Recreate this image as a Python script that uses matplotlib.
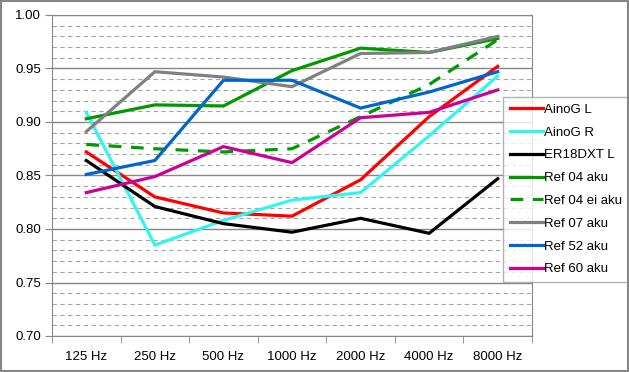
import matplotlib.pyplot as plt
import numpy as np
from matplotlib.ticker import MultipleLocator, FixedLocator

plt.rcParams['font.family'] = ['Liberation Sans', 'DejaVu Sans']

freqs = ['125 Hz', '250 Hz', '500 Hz', '1000 Hz', '2000 Hz', '4000 Hz', '8000 Hz']

aino_g_l = [0.872, 0.830, 0.815, 0.812, 0.846, 0.905, 0.952]
aino_g_r = [0.909, 0.785, 0.808, 0.827, 0.834, 0.887, 0.943]
er18dxt_l = [0.864, 0.821, 0.805, 0.797, 0.810, 0.796, 0.847]
ref04_aku = [0.903, 0.916, 0.915, 0.948, 0.969, 0.965, 0.978]
ref04_ei_aku = [0.879, 0.875, 0.872, 0.875, 0.905, 0.935, 0.977]
ref07_aku = [0.891, 0.947, 0.942, 0.933, 0.964, 0.965, 0.980]
ref52_aku = [0.851, 0.864, 0.939, 0.939, 0.913, 0.928, 0.947]
ref60_aku = [0.834, 0.849, 0.877, 0.862, 0.904, 0.909, 0.930]

series = [
    ('AinoG L', aino_g_l, '#ff0000', '-'),
    ('AinoG R', aino_g_r, '#33f5f0', '-'),
    ('ER18DXT L', er18dxt_l, '#000000', '-'),
    ('Ref 04 aku', ref04_aku, '#009900', '-'),
    ('Ref 04 ei aku', ref04_ei_aku, '#009900', (0, (4, 3))),
    ('Ref 07 aku', ref07_aku, '#808080', '-'),
    ('Ref 52 aku', ref52_aku, '#0066cc', '-'),
    ('Ref 60 aku', ref60_aku, '#cc0099', '-'),
]

fig = plt.figure(figsize=(6.29, 3.72), dpi=100)
ax = fig.add_axes([52 / 629, 1 - 336 / 372, 480 / 629, 321 / 372])

x = np.arange(len(freqs))
for name, vals, color, ls in series:
    ax.plot(x, vals, color=color, linestyle=ls, linewidth=2.3, label=name,
            solid_joinstyle='miter')

ax.set_xlim(-0.5, len(freqs) - 0.5)
ax.set_ylim(0.70, 1.00)
ax.yaxis.set_major_locator(MultipleLocator(0.05))
ax.yaxis.set_minor_locator(MultipleLocator(0.01))
ax.yaxis.set_major_formatter(plt.FormatStrFormatter('%.2f'))
ax.grid(which='major', axis='y', color='#868686', linewidth=1.0)
ax.grid(which='minor', axis='y', color='#a6a6a6', linewidth=0.8, linestyle=(0, (4, 3)))
ax.set_axisbelow(True)

ax.set_xticks(x)
ax.set_xticklabels(freqs)
ax.xaxis.set_minor_locator(FixedLocator(np.arange(-0.5, len(freqs), 1.0)))
ax.tick_params(axis='x', which='major', length=0, pad=11, labelsize=9.5)
ax.tick_params(axis='x', which='minor', length=5, color='#868686', direction='out')
ax.tick_params(axis='y', which='major', length=5, color='#868686', labelsize=9.5, pad=3)
ax.tick_params(axis='y', which='minor', length=0)

for side in ['top', 'right', 'bottom', 'left']:
    ax.spines[side].set_color('#868686')

leg = ax.legend(loc='upper left', bbox_to_anchor=(503 / 629, 1 - 97 / 372),
                bbox_transform=fig.transFigure, frameon=True, fancybox=False,
                fontsize=9.5, handlelength=2.5, handletextpad=0.1,
                labelspacing=0.8, borderpad=0.5, borderaxespad=0)
leg.get_frame().set_edgecolor('#a0a0a0')
leg.get_frame().set_linewidth(1.0)

fig.patches.append(plt.Rectangle((0.001, 0.002), 0.997, 0.995, transform=fig.transFigure,
                                 fill=False, edgecolor='#868686', linewidth=1.5))

fig.savefig('out.png', dpi=100)
